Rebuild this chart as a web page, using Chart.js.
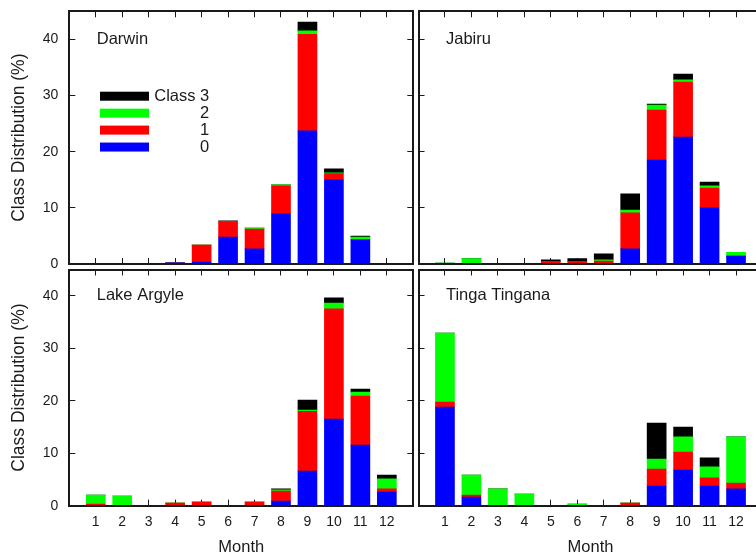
<!DOCTYPE html>
<html>
<head>
<meta charset="utf-8">
<script src="https://cdn.jsdelivr.net/npm/chart.js@4.4.0/dist/chart.umd.min.js"></script>
<style>
  html, body { margin: 0; padding: 0; background: #fff; }
  body { position: relative; width: 756px; height: 556px; overflow: hidden; }
  canvas { position: absolute; left: 0; top: 0; }
</style>
</head>
<body>
<script>
  // ---------- Data ----------
  const MONTHS = [1, 2, 3, 4, 5, 6, 7, 8, 9, 10, 11, 12];
  const Y_TICKS = [0, 10, 20, 30, 40];
  const CLASS_LABELS = ['Class 0', 'Class 1', 'Class 2', 'Class 3'];
  const LEGEND_TEXT = ['Class 3', '2', '1', '0'];

  const darwin0 = [0, 0, 0, 0.2, 0.35, 4.8, 2.7, 9.0, 23.7, 15.0, 4.3, 0];
  const darwin1 = [0, 0, 0, 0, 3.0, 2.75, 3.5, 4.9, 17.2, 1.1, 0, 0];
  const darwin2 = [0, 0, 0, 0, 0, 0, 0.2, 0.2, 0.6, 0.15, 0.5, 0];
  const darwin3 = [0, 0, 0, 0, 0, 0.15, 0, 0, 1.6, 0.7, 0.15, 0];

  const jabiru0 = [0, 0, 0, 0, 0, 0, 0, 2.7, 18.5, 22.6, 10.0, 1.4];
  const jabiru1 = [0, 0, 0, 0, 0.4, 0.4, 0.5, 6.4, 8.9, 9.8, 3.5, 0];
  const jabiru2 = [0.15, 0.95, 0, 0, 0, 0, 0.25, 0.5, 0.9, 0.4, 0.4, 0.7];
  const jabiru3 = [0, 0, 0, 0, 0.35, 0.55, 1.05, 2.9, 0.2, 1.0, 0.7, 0];

  const argyle0 = [0, 0, 0, 0, 0, 0, 0, 0.9, 6.6, 16.5, 11.55, 2.6];
  const argyle1 = [0.3, 0, 0, 0.5, 0.7, 0, 0.7, 1.9, 11.4, 21.0, 9.35, 0.6];
  const argyle2 = [1.7, 1.85, 0, 0, 0, 0, 0, 0.2, 0.2, 1.1, 0.75, 1.9];
  const argyle3 = [0, 0, 0, 0, 0, 0, 0, 0.2, 1.9, 1.0, 0.55, 0.75];

  const tinga0 = [18.8, 1.65, 0, 0, 0, 0, 0, 0, 3.75, 6.8, 3.75, 3.2];
  const tinga1 = [0.95, 0.35, 0, 0, 0, 0, 0, 0.5, 3.25, 3.4, 1.55, 1.1];
  const tinga2 = [13.15, 3.85, 3.2, 2.2, 0, 0.3, 0, 0, 1.9, 2.9, 2.1, 8.8];
  const tinga3 = [0, 0, 0, 0, 0, 0, 0, 0, 6.85, 1.9, 1.7, 0];

  // ---------- Style ----------
  const CLASS_COLORS = ['#0000ff', '#ff0000', '#00ff00', '#000000'];
  const INK = '#1a1a1a';
  const FAMILY = '"Liberation Sans", Arial, Helvetica, sans-serif';
  const TICK_FONT = { family: FAMILY, size: 14 };
  const TEXT_FONT = { family: FAMILY, size: 16.5 };
  const YTITLE_FONT = { family: FAMILY, size: 17.5 };
  const TICK_LEN = 6;
  const CANVAS_W = 770;
  const CANVAS_H = 560;

  // chart-area boxes of the four panels (px)
  const PANELS = [
    { name: 'Darwin', series: [darwin0, darwin1, darwin2, darwin3],
      left: 69.3, right: 413.3, top: 11.3, bottom: 264, yLabels: true, xLabels: false, legend: true },
    { name: 'Jabiru', series: [jabiru0, jabiru1, jabiru2, jabiru3],
      left: 418.5, right: 762.5, top: 11.3, bottom: 264, yLabels: false, xLabels: false, legend: false },
    { name: 'Lake Argyle', series: [argyle0, argyle1, argyle2, argyle3],
      left: 69.3, right: 413.3, top: 269.5, bottom: 505.7, yLabels: true, xLabels: true, legend: false },
    { name: 'Tinga Tingana', series: [tinga0, tinga1, tinga2, tinga3],
      left: 418.5, right: 762.5, top: 269.5, bottom: 505.7, yLabels: false, xLabels: true, legend: false }
  ];

  // ---------- Panel name + legend ----------
  const panelText = {
    id: 'panelText',
    afterDatasetsDraw(chart, args, opts) {
      const { ctx, chartArea } = chart;
      const x = chart.scales.x;
      const y = chart.scales.y;
      ctx.save();
      ctx.font = TEXT_FONT.size + 'px ' + FAMILY;
      ctx.fillStyle = INK;
      ctx.textBaseline = 'middle';
      ctx.textAlign = 'left';
      ctx.fillText(opts.text, x.getPixelForValue(1) + 1, y.getPixelForValue(40));

      if (opts.legend) {
        const ds = chart.data.datasets.slice().reverse();
        ds.forEach((d, i) => {
          const cy = chartArea.top + 84.9 + i * 16.95;
          ctx.fillStyle = d.backgroundColor;
          ctx.fillRect(chartArea.left + 30.7, cy - 4.5, 49, 9);
          ctx.fillStyle = INK;
          ctx.textAlign = 'right';
          ctx.fillText(LEGEND_TEXT[i], chartArea.left + 140, cy);
        });
      }
      ctx.restore();
    }
  };

  // keep the label padding from pushing the plot area around
  function noPad(s) {
    s.paddingTop = 0;
    s.paddingBottom = 0;
    s.paddingLeft = 0;
    s.paddingRight = 0;
  }

  function frameAxis(extra) {
    return Object.assign({
      display: true,
      offset: false,
      grid: { offset: false, drawOnChartArea: false, drawTicks: true, tickLength: -TICK_LEN, tickColor: INK, tickWidth: 1 },
      border: { display: true, color: INK, width: 2, z: 1 }
    }, extra);
  }

  function makePanel(p) {
    const canvas = document.createElement('canvas');
    canvas.width = CANVAS_W;
    canvas.height = CANVAS_H;
    document.body.appendChild(canvas);

    const yAxisW = p.yLabels ? p.left : 0;
    const xAxisH = p.xLabels ? 51.5 : 0;

    return new Chart(canvas, {
      type: 'bar',
      data: {
        labels: MONTHS,
        datasets: p.series.map((vals, i) => ({
          label: CLASS_LABELS[i],
          data: vals,
          xAxisID: 'x',
          yAxisID: 'y',
          backgroundColor: CLASS_COLORS[i],
          borderWidth: 0,
          barThickness: 19
        }))
      },
      options: {
        responsive: false,
        animation: false,
        events: [],
        layout: {
          padding: {
            left: p.left - yAxisW,
            top: p.top,
            right: CANVAS_W - p.right,
            bottom: CANVAS_H - p.bottom - xAxisH
          }
        },
        plugins: {
          legend: { display: false },
          tooltip: { enabled: false },
          panelText: { text: p.name, legend: p.legend }
        },
        scales: {
          x: frameAxis({
            type: 'linear', axis: 'x', position: 'bottom', min: 0, max: 13, stacked: true,
            afterBuildTicks: (s) => { s.ticks = MONTHS.map((v) => ({ value: v })); },
            afterFit: (s) => { s.height = xAxisH; noPad(s); },
            ticks: { display: p.xLabels, padding: TICK_LEN + 8, color: INK, font: TICK_FONT,
              autoSkip: false, maxRotation: 0, callback: (v) => String(v) },
            title: { display: p.xLabels, text: 'Month', color: INK, font: TEXT_FONT, padding: 0 }
          }),
          x2: frameAxis({
            type: 'linear', axis: 'x', position: 'top', min: 0, max: 13,
            afterBuildTicks: (s) => { s.ticks = MONTHS.map((v) => ({ value: v })); },
            afterFit: (s) => { s.height = 0; noPad(s); },
            ticks: { display: false }
          }),
          y: frameAxis({
            type: 'linear', axis: 'y', position: 'left', min: 0, max: 45, stacked: true,
            afterBuildTicks: (s) => { s.ticks = Y_TICKS.map((v) => ({ value: v })); },
            afterFit: (s) => { s.width = yAxisW; noPad(s); },
            ticks: { display: p.yLabels, padding: TICK_LEN + 11, color: INK, font: TICK_FONT },
            title: { display: p.yLabels, text: 'Class Distribution (%)', color: INK, font: YTITLE_FONT,
              padding: { top: 9, bottom: 0 } }
          }),
          y2: frameAxis({
            type: 'linear', axis: 'y', position: 'right', min: 0, max: 45,
            afterBuildTicks: (s) => { s.ticks = Y_TICKS.map((v) => ({ value: v })); },
            afterFit: (s) => { s.width = 0; noPad(s); },
            ticks: { display: false }
          })
        }
      },
      plugins: [panelText]
    });
  }

  PANELS.forEach(makePanel);
</script>
</body>
</html>
